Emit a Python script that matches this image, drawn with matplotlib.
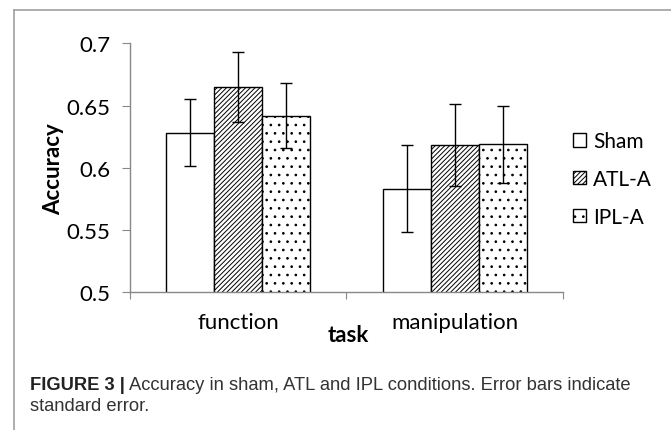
import matplotlib
matplotlib.use("Agg")
import matplotlib.pyplot as plt
import numpy as np
from matplotlib.lines import Line2D

# data
tasks = ["function", "manipulation"]
conditions = ["Sham", "ATL-A", "IPL-A"]
accuracy = {
    "Sham": [0.628, 0.583],
    "ATL-A": [0.665, 0.618],
    "IPL-A": [0.642, 0.619],
}
std_err = {
    "Sham": [0.027, 0.035],
    "ATL-A": [0.028, 0.033],
    "IPL-A": [0.026, 0.031],
}
hatches = {"Sham": "", "ATL-A": "///////", "IPL-A": ".."}
yticks = [0.5, 0.55, 0.6, 0.65, 0.7]

plt.rcParams['font.family'] = ['Lato', 'DejaVu Sans']
plt.rcParams['hatch.linewidth'] = 0.7

fig = plt.figure(figsize=(6.71, 4.31), dpi=100)
ax = fig.add_axes([0.1937, 0.320, 0.645, 0.577])

x = np.arange(len(tasks))
w = 0.222
for i, c in enumerate(conditions):
    ax.bar(x + (i - 1) * w, accuracy[c], w, bottom=0, color="white",
           edgecolor="black", linewidth=1.0, hatch=hatches[c], label=c,
           yerr=std_err[c], capsize=4,
           error_kw=dict(ecolor="black", elinewidth=1.0, capthick=1.0))

ax.set_ylim(0.5, 0.7)
ax.set_xlim(-0.5, 1.5)
ax.set_yticks(yticks)
ax.set_yticklabels([f"{v:g}" for v in yticks], fontsize=16)
ax.set_xticks([-0.5, 0.5, 1.5])
ax.set_xticklabels([])
ax.set_xticks(x, minor=True)
ax.set_xticklabels(tasks, minor=True, fontsize=16)
ax.tick_params(axis="x", which="minor", length=0, pad=14)
ax.tick_params(axis="x", which="major", length=5, color="#888888")
ax.tick_params(axis="y", length=6, color="#888888", pad=8)
for s in ["top", "right"]:
    ax.spines[s].set_visible(False)
for s in ["left", "bottom"]:
    ax.spines[s].set_color("#888888")
    ax.spines[s].set_linewidth(1.0)

ax.set_ylabel("Accuracy", fontsize=16, fontweight="bold", labelpad=1.5)
fig.text(348 / 671, 1 - 336 / 431, "task", fontsize=16, fontweight="bold",
         ha="center", va="center")

leg = ax.legend(loc="center left", bbox_to_anchor=(1.023, 0.455), frameon=False,
                fontsize=15, handlelength=0.62, handleheight=0.62,
                handletextpad=0.35, labelspacing=0.85, borderpad=0,
                borderaxespad=0)

# border around the figure panel
fig.add_artist(Line2D([14 / 671, 1], [1 - 11 / 431, 1 - 11 / 431],
                      color="#a0a0a0", lw=1.2))
fig.add_artist(Line2D([14 / 671, 14 / 671], [0, 1 - 11 / 431],
                      color="#a0a0a0", lw=1.2))

cap_font = ['Liberation Sans', 'DejaVu Sans']
t1 = fig.text(30 / 671, 1 - 390 / 431, "FIGURE 3 |", fontsize=13.2,
              fontweight="bold", family=cap_font, va="baseline",
              color="#222222")
fig.canvas.draw()
bb = t1.get_window_extent(renderer=fig.canvas.get_renderer())
fig.text((bb.x1 + 4) / 671, 1 - 390 / 431,
         "Accuracy in sham, ATL and IPL conditions. Error bars indicate",
         fontsize=13.2, family=cap_font, va="baseline", color="#333333")
fig.text(30 / 671, 1 - 411 / 431, "standard error.", fontsize=13.2,
         family=cap_font, va="baseline", color="#333333")

fig.savefig("out.png", dpi=100)
